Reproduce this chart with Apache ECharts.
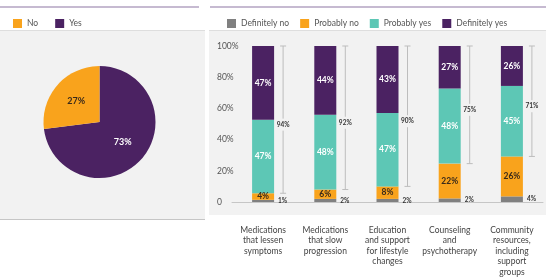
<!DOCTYPE html>
<html>
<head>
<meta charset="utf-8">
<script src="https://cdn.jsdelivr.net/npm/echarts@6/dist/echarts.min.js"></script>
<style>
  html, body { margin: 0; padding: 0; background: #fff; }
  #chart { width: 546px; height: 279px; }
</style>
</head>
<body>
<div id="chart"></div>
<script>
// pie: share of No / Yes
const pieNames = ['Yes', 'No'];
const pieValues = [73, 27];

// stacked bars
const categories = [
  'Medications\nthat lessen\nsymptoms',
  'Medications\nthat slow\nprogression',
  'Education\nand support\nfor lifestyle\nchanges',
  'Counseling\nand\npsychotherapy',
  'Community\nresources,\nincluding\nsupport\ngroups'
];
const definitelyNo = [1.4, 2, 2, 2.3, 3.6];
const probablyNo = [4.2, 6, 8, 22.3, 25.6];
const probablyYes = [47.2, 48, 47, 48.2, 45.2];
const definitelyYes = [47.2, 44, 43, 27.2, 25.6];
const yTicks = ['0', '20%', '40%', '60%', '80%', '100%'];

const PURPLE = '#4b2262', TEAL = '#5dc7b5', ORANGE = '#f9a31c', GREY = '#808080';
const FONT = 'Lato, "Noto Sans", sans-serif';

const chart = echarts.init(document.getElementById('chart'));

const pct = p => Math.round(p.value) + '%';

// bracket showing the combined "yes" share beside each bar
const brackets = categories.map((c, i) => [
  i,
  definitelyNo[i] + probablyNo[i],
  definitelyNo[i] + probablyNo[i] + probablyYes[i] + definitelyYes[i],
  Math.round(probablyYes[i] + definitelyYes[i])
]);

function renderBracket(params, api) {
  const lo = api.coord([api.value(0), api.value(1)]);
  const hi = api.coord([api.value(0), api.value(2)]);
  const x = lo[0] + 20;
  const mid = (lo[1] + hi[1]) / 2 + 5;
  const st = { stroke: '#bdbdbd', lineWidth: 1 };
  return {
    type: 'group',
    children: [
      { type: 'line', shape: { x1: x - 3, y1: hi[1], x2: x + 3, y2: hi[1] }, style: st },
      { type: 'line', shape: { x1: x - 3, y1: lo[1], x2: x + 3, y2: lo[1] }, style: st },
      { type: 'line', shape: { x1: x, y1: hi[1], x2: x, y2: mid - 6 }, style: st },
      { type: 'line', shape: { x1: x, y1: mid + 6, x2: x, y2: lo[1] }, style: st },
      {
        type: 'text',
        style: {
          x: x, y: mid, text: api.value(3) + '%', align: 'center', verticalAlign: 'middle',
          fill: '#333', font: 'bold 6.5px ' + FONT
        }
      }
    ]
  };
}

chart.setOption({
  animation: false,
  textStyle: { fontFamily: FONT },
  graphic: [
    { type: 'line', shape: { x1: 0, y1: 7, x2: 199, y2: 7 }, style: { stroke: '#8d76a3', lineWidth: 1.2 } },
    { type: 'line', shape: { x1: 210, y1: 7, x2: 546, y2: 7 }, style: { stroke: '#8d76a3', lineWidth: 1.2 } },
    { type: 'rect', shape: { x: 0, y: 30, width: 205, height: 189 }, style: { fill: '#f2f2f2' }, z: -10 },
    { type: 'line', shape: { x1: 0, y1: 30.5, x2: 205, y2: 30.5 }, style: { stroke: '#dedede' }, z: -9 },
    { type: 'line', shape: { x1: 0, y1: 219.5, x2: 205, y2: 219.5 }, style: { stroke: '#c6c6c6' }, z: -9 },
    { type: 'rect', shape: { x: 209, y: 30, width: 337, height: 185 }, style: { fill: '#f2f2f2' }, z: -10 },
    { type: 'line', shape: { x1: 209, y1: 30.5, x2: 546, y2: 30.5 }, style: { stroke: '#dedede' }, z: -9 }
  ],
  legend: [
    {
      left: 8, top: 14, itemWidth: 9, itemHeight: 9, itemGap: 17, icon: 'rect',
      data: ['No', 'Yes'],
      textStyle: { fontSize: 8.5, color: '#555', fontFamily: FONT }
    },
    {
      left: 222, top: 14, itemWidth: 9, itemHeight: 9, itemGap: 11, icon: 'rect',
      data: ['Definitely no', 'Probably no', 'Probably yes', 'Definitely yes'],
      textStyle: { fontSize: 8.5, color: '#555', fontFamily: FONT }
    }
  ],
  grid: { left: 232, right: 3, top: 46, bottom: 77 },
  xAxis: {
    type: 'category',
    data: categories,
    offset: 13,
    axisLine: { lineStyle: { color: '#c6c6c6' } },
    axisTick: { alignWithLabel: true, length: 8, lineStyle: { color: '#bbb' } },
    axisLabel: { fontSize: 8.5, lineHeight: 10.5, color: '#444', margin: 10, interval: 0 }
  },
  yAxis: {
    type: 'value',
    min: 0, max: 100, interval: 20,
    splitLine: { show: false },
    axisLine: { show: false },
    axisTick: { show: false },
    axisLabel: {
      align: 'left', margin: 15, fontSize: 8.5, color: '#555',
      formatter: v => yTicks[v / 20]
    }
  },
  series: [
    {
      type: 'pie',
      center: [99.5, 122],
      radius: 56,
      startAngle: 90,
      silent: true,
      data: pieNames.map((n, i) => ({
        name: n, value: pieValues[i],
        itemStyle: { color: n === 'Yes' ? PURPLE : ORANGE },
        label: { color: n === 'Yes' ? '#fff' : '#3a2a1a' }
      })),
      label: { position: 'inner', formatter: '{c}%', fontSize: 9, fontWeight: 'bold' },
      labelLine: { show: false }
    },
    {
      name: 'Definitely no', type: 'bar', stack: 'a', barWidth: 22,
      data: definitelyNo, itemStyle: { color: GREY },
      label: { show: true, position: 'right', distance: 4, formatter: pct, fontSize: 6.5, fontWeight: 'bold', color: '#333' }
    },
    {
      name: 'Probably no', type: 'bar', stack: 'a', barWidth: 22,
      data: probablyNo, itemStyle: { color: ORANGE },
      label: { show: true, position: 'inside', formatter: pct, fontSize: 8.5, fontWeight: 'bold', color: '#3a2a1a' }
    },
    {
      name: 'Probably yes', type: 'bar', stack: 'a', barWidth: 22,
      data: probablyYes, itemStyle: { color: TEAL },
      label: { show: true, position: 'inside', formatter: pct, fontSize: 8.5, fontWeight: 'bold', color: '#fff' }
    },
    {
      name: 'Definitely yes', type: 'bar', stack: 'a', barWidth: 22,
      data: definitelyYes, itemStyle: { color: PURPLE },
      label: { show: true, position: 'inside', formatter: pct, fontSize: 8.5, fontWeight: 'bold', color: '#fff' }
    },
    {
      type: 'custom',
      renderItem: renderBracket,
      data: brackets,
      silent: true,
      z: 3
    }
  ]
});
</script>
</body>
</html>
